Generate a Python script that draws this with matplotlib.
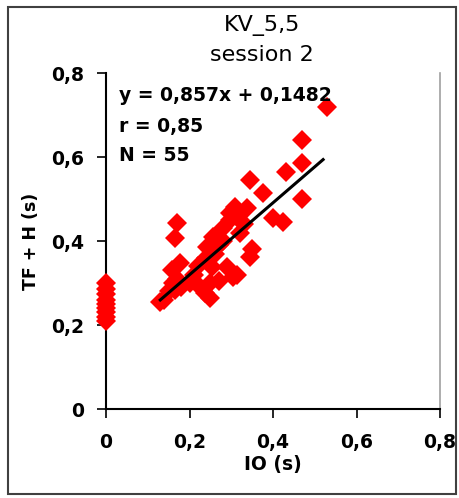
import matplotlib
matplotlib.use("Agg")
import matplotlib.pyplot as plt
from matplotlib.patches import Rectangle

# IO (s) = 0 column
zero_x = [0, 0, 0, 0, 0, 0, 0, 0, 0]
zero_y = [0.21, 0.22, 0.23, 0.24, 0.25, 0.26, 0.275, 0.285, 0.30]

# remaining sessions
io = [0.13, 0.14, 0.15, 0.16, 0.165, 0.158, 0.17, 0.177, 0.165, 0.17,
      0.18, 0.20, 0.21, 0.22, 0.237, 0.25, 0.25, 0.254, 0.242, 0.256,
      0.24, 0.26, 0.27, 0.28, 0.29, 0.297, 0.297, 0.31, 0.304, 0.314,
      0.314, 0.32, 0.33, 0.338, 0.345, 0.35, 0.345, 0.376, 0.40, 0.424,
      0.43, 0.47, 0.47, 0.47, 0.529, 0.28, 0.27, 0.22]
tfh = [0.255, 0.26, 0.28, 0.30, 0.283, 0.331, 0.31, 0.348, 0.407, 0.443,
       0.29, 0.30, 0.32, 0.34, 0.276, 0.30, 0.265, 0.338, 0.386, 0.41,
       0.36, 0.37, 0.39, 0.40, 0.338, 0.45, 0.467, 0.481, 0.314, 0.457,
       0.32, 0.42, 0.44, 0.479, 0.362, 0.38, 0.545, 0.514, 0.455, 0.445,
       0.565, 0.585, 0.50, 0.64, 0.719, 0.43, 0.305, 0.295]

# regression line y = 0,857x + 0,1482 drawn over the data range
fit_x = [0.13, 0.52]
slope, intercept = 0.857, 0.1482

ticks = [0, 0.2, 0.4, 0.6, 0.8]
tick_labels = ["0", "0,2", "0,4", "0,6", "0,8"]

fig = plt.figure(figsize=(4.59, 4.98), dpi=100)
ax = fig.add_axes([106 / 459, 1 - 409 / 498, 334 / 459, 336 / 498])

ax.plot(zero_x + io, zero_y + tfh, linestyle="none", marker="D",
        markersize=10, color="#ff0000", markeredgewidth=0,
        clip_on=False, zorder=3)
ax.plot(fit_x, [slope * x + intercept for x in fit_x], color="black",
        linewidth=2.2, zorder=4)

ax.set_xlim(0, 0.8)
ax.set_ylim(0, 0.8)
ax.set_xticks(ticks)
ax.set_yticks(ticks)
ax.set_xticklabels(tick_labels, fontweight="bold", fontsize=13.5)
ax.set_yticklabels(tick_labels, fontweight="bold", fontsize=13.5)
ax.tick_params(axis="x", direction="out", length=6.5, width=1.2, pad=11)
ax.tick_params(axis="y", direction="out", length=6.5, width=1.2, pad=9)

for side in ["left", "bottom"]:
    ax.spines[side].set_linewidth(1.5)
    ax.spines[side].set_color("black")
ax.spines["right"].set_linewidth(1.2)
ax.spines["right"].set_color("#a0a0a0")
ax.spines["top"].set_visible(False)

ax.set_xlabel("IO (s)", fontweight="bold", fontsize=13.5, labelpad=2)
ax.set_ylabel("TF + H (s)", fontweight="bold", fontsize=12.5, labelpad=8)

ax.text(0.04, 0.932, "y = 0,857x + 0,1482", transform=ax.transAxes,
        fontweight="bold", fontsize=13.5, va="center", ha="left")
ax.text(0.04, 0.842, "r = 0,85", transform=ax.transAxes,
        fontweight="bold", fontsize=13.5, va="center", ha="left")
ax.text(0.04, 0.753, "N = 55", transform=ax.transAxes,
        fontweight="bold", fontsize=13.5, va="center", ha="left")

fig.text(262 / 459, 1 - 26 / 498, "KV_5,5", fontsize=16, ha="center", va="center")
fig.text(262 / 459, 1 - 55 / 498, "session 2", fontsize=16, ha="center", va="center")

fig.patches.append(Rectangle((8 / 459, 1 - 494 / 498), 448 / 459, 487 / 498,
                             transform=fig.transFigure, fill=False,
                             edgecolor="#404040", linewidth=1.5))

fig.savefig("out.png", dpi=100)
